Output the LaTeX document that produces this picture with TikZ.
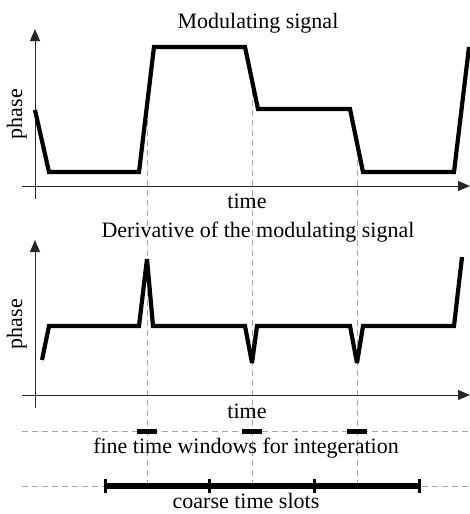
\documentclass[tikz,border=0pt]{standalone}
\usepackage{fontspec}
\setmainfont{Liberation Serif}
\usetikzlibrary{arrows.meta}
\begin{document}
\begin{tikzpicture}[x=1pt,y=-1pt,
  axis/.style={black!85, line width=0.9pt, -{Triangle[length=12pt,width=10pt]}},
  guide/.style={gray!70, line width=0.8pt, dash pattern=on 6pt off 4pt},
  signal/.style={line width=4.2pt, line join=miter, miter limit=4},
  window/.style={line width=5pt},
  slot/.style={line width=6pt},
  slottick/.style={line width=3pt},
  txt/.style={font=\fontsize{22}{26}\selectfont, inner sep=0pt, anchor=base}]
\useasboundingbox (0,0) rectangle (470,514);

% transition instants shared by both plots
\coordinate (e1) at (147,110);
\coordinate (e2) at (252,80);
\coordinate (e3) at (357,140);

% vertical guides through the transitions
\draw[guide] (e1) -- (e1 |- 0,487);
\draw[guide] (e2) -- (e2 |- 0,487);
\draw[guide] (e3) -- (e3 |- 0,487);

% horizontal guides for windows and slots
\draw[guide] (22,431) -- (470,431);
\draw[guide] (22,486) -- (470,486);

% axes
\draw[axis] (35,199) -- (35,29);
\draw[axis] (22,186) -- (470,186);
\draw[axis] (35,408) -- (35,240);
\draw[axis] (22,395) -- (470,395);

% modulating signal
\draw[signal] (35,110) -- (49,172) -- (139,172) -- (154,47) -- (245,47)
  -- (258,109) -- (350,109) -- (363,172) -- (454,172) -- (469,47);

% its derivative
\draw[signal] (42,360) -- (49,326) -- (139,326) -- (147,259) -- (153,326)
  -- (245,326) -- (252,363) -- (257,326) -- (350,326) -- (357,363)
  -- (363,326) -- (454,326) -- (462,257);

% fine integration windows
\draw[window] (137,431) -- (157,431);
\draw[window] (242,431) -- (262,431);
\draw[window] (347,431) -- (367,431);

% coarse time slots
\draw[slot] (105,486) -- (419,486);
\foreach \sx in {105,209,314,419}
  \draw[slottick] (\sx,479) -- (\sx,493);

% texts
\node[txt] (t1) at (258,28) {Modulating signal};
\node[txt] (x1) at (247,208) {time};
\node[txt] (t2) at (258,237) {Derivative of the modulating signal};
\node[txt] (x2) at (247,418) {time};
\node[txt] (fw) at (246,453) {fine time windows for integeration};
\node[txt] (cs) at (246,508) {coarse time slots};
\node[txt, rotate=90] (p1) at (22,114) {phase};
\node[txt, rotate=90] (p2) at (22,324) {phase};
\end{tikzpicture}
\end{document}
